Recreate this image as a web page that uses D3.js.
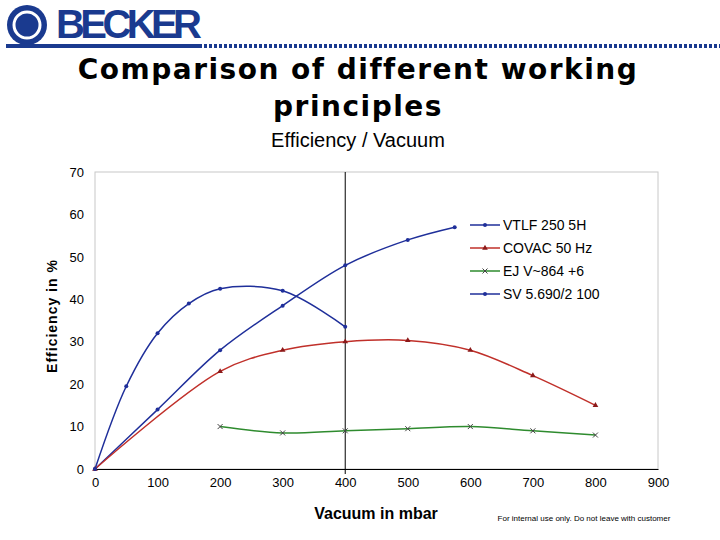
<!DOCTYPE html>
<html><head><meta charset="utf-8">
<script src="https://cdn.jsdelivr.net/npm/d3@7"></script>
<style>body{margin:0;background:#fff}</style>
</head><body><svg id="c" width="720" height="540"></svg>
<script>
const xTicks = [0, 100, 200, 300, 400, 500, 600, 700, 800, 900];
const yTicks = [0, 10, 20, 30, 40, 50, 60, 70];
const vtlf = [[0,0],[100,14],[200,28],[300,38.5],[400,48],[500,54],[575,57]];
const covac = [[0,0],[200,23],[300,28],[400,30],[500,30.3],[600,28],[700,22],[800,15]];
const ej = [[200,10],[300,8.5],[400,9],[500,9.5],[600,10],[700,9],[800,8]];
const sv = [[0,0],[50,19.5],[100,32],[150,39],[200,42.5],[300,42],[400,33.5]];
const seriesNames = ["VTLF 250 5H", "COVAC 50 Hz", "EJ V~864 +6", "SV 5.690/2 100"];

const svg = d3.select("#c");
const blue = "#1a3a8f";

// header
svg.append("circle").attr("cx", 27).attr("cy", 25).attr("r", 20).attr("fill", blue);
svg.append("circle").attr("cx", 27).attr("cy", 25).attr("r", 13).attr("fill", "none").attr("stroke", "#fff").attr("stroke-width", 3);
svg.append("text").attr("x", 56).attr("y", 38).attr("font-family", "Liberation Sans Narrow, Liberation Sans")
  .attr("font-weight", "bold").attr("font-size", 40).attr("fill", blue).attr("textLength", 146).text("BECKER");
svg.append("rect").attr("x", 6).attr("y", 44).attr("width", 196).attr("height", 4).attr("fill", blue);
svg.append("line").attr("x1", 204).attr("x2", 720).attr("y1", 46).attr("y2", 46)
  .attr("stroke", blue).attr("stroke-width", 4).attr("stroke-dasharray", "3,2");

const t = svg.append("g").attr("font-family", "DejaVu Sans, Liberation Sans").attr("text-anchor", "middle");
t.append("text").attr("x", 358).attr("y", 79).attr("font-size", 28).attr("font-weight", "bold").attr("letter-spacing", 1.5).text("Comparison of different working");
t.append("text").attr("x", 358).attr("y", 116).attr("font-size", 28).attr("font-weight", "bold").attr("letter-spacing", 1.5).text("principles");
t.append("text").attr("x", 358).attr("y", 147).attr("font-size", 20).attr("font-family", "Liberation Sans, Arial").text("Efficiency / Vacuum");

const x = d3.scaleLinear().domain([0, 900]).range([95, 658]);
const y = d3.scaleLinear().domain([0, 70]).range([469, 172]);

svg.append("rect").attr("x", 95).attr("y", 172).attr("width", 563).attr("height", 297)
  .attr("fill", "none").attr("stroke", "#c8c8c8");

svg.append("g").attr("transform", "translate(0,469)")
  .call(d3.axisBottom(x).tickValues(xTicks).tickSize(0).tickPadding(9))
  .call(g => g.select(".domain").attr("stroke", "#000"))
  .call(g => g.selectAll("text").attr("font-size", 13).attr("font-family", "Liberation Sans, Arial"));
svg.append("g").attr("transform", "translate(95,0)")
  .call(d3.axisLeft(y).tickValues(yTicks).tickSize(0).tickPadding(11))
  .call(g => g.select(".domain").remove())
  .call(g => g.selectAll("text").attr("font-size", 13).attr("font-family", "Liberation Sans, Arial"));

svg.append("line").attr("x1", x(400)).attr("x2", x(400)).attr("y1", y(70)).attr("y2", y(0) + 5).attr("stroke", "#000");

svg.append("text").attr("x", 376).attr("y", 519).attr("text-anchor", "middle").attr("font-family", "Liberation Sans, Arial")
  .attr("font-weight", "bold").attr("font-size", 16).text("Vacuum in mbar");
svg.append("text").attr("transform", "translate(57,316) rotate(-90)").attr("text-anchor", "middle").attr("font-family", "Liberation Sans, Arial")
  .attr("font-weight", "bold").attr("font-size", 14).attr("letter-spacing", 1).text("Efficiency in %");
svg.append("text").attr("x", 584).attr("y", 521).attr("text-anchor", "middle").attr("font-family", "Liberation Sans, Arial")
  .attr("font-size", 8).text("For internal use only. Do not leave with customer");

const line = d3.line().x(d => x(d[0])).y(d => y(d[1])).curve(d3.curveCatmullRom.alpha(0.5));
const series = [
  { data: vtlf, color: "#1f2f9a", mark: "dot" },
  { data: covac, color: "#c0302a", mark: "tri" },
  { data: ej, color: "#2e8b2e", mark: "x" },
  { data: sv, color: "#1f2f9a", mark: "dot" }
];
function marker(g, m, color, cx, cy) {
  if (m === "dot") g.append("circle").attr("cx", cx).attr("cy", cy).attr("r", 2).attr("fill", color);
  else if (m === "tri") g.append("path").attr("d", d3.symbol(d3.symbolTriangle, 14)()).attr("transform", `translate(${cx},${cy})`).attr("fill", "#8b1a1a");
  else g.append("path").attr("d", "M-2.5,-2.5L2.5,2.5M-2.5,2.5L2.5,-2.5").attr("transform", `translate(${cx},${cy})`).attr("stroke", "#444").attr("stroke-width", 1);
}
series.forEach((s, i) => {
  const g = svg.append("g");
  g.append("path").datum(s.data).attr("d", line).attr("fill", "none").attr("stroke", s.color).attr("stroke-width", 1.5);
  s.data.forEach(d => marker(g, s.mark, s.color, x(d[0]), y(d[1])));
  const ly = 225 + i * 23;
  g.append("line").attr("x1", 470).attr("x2", 500).attr("y1", ly).attr("y2", ly).attr("stroke", s.color).attr("stroke-width", 1.5);
  marker(g, s.mark, s.color, 485, ly);
  g.append("text").attr("x", 503).attr("y", ly + 5).attr("font-family", "Liberation Sans, Arial").attr("font-size", 14).text(seriesNames[i]);
});
</script></body></html>
